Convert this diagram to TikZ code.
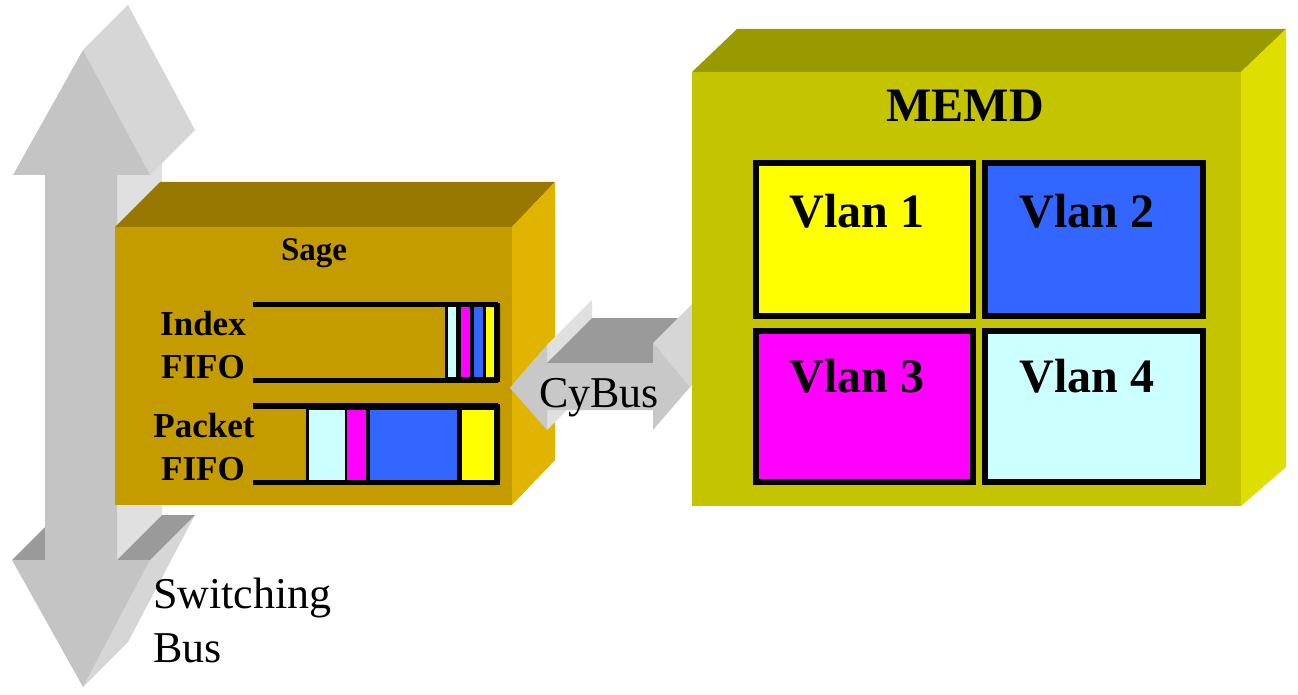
\documentclass[tikz,border=0pt]{standalone}
\usepackage{fontspec}
\setmainfont{Liberation Serif}

% arrow greys
\definecolor{arrFront}{HTML}{C4C4C4}
\definecolor{arrHeadSide}{HTML}{D6D6D6}
\definecolor{arrShaftSide}{HTML}{E0E0E0}
\definecolor{arrTop}{HTML}{9A9A9A}
\definecolor{cyFront}{HTML}{C8C8C8}
% Sage box
\definecolor{sageFront}{HTML}{C49C00}
\definecolor{sageTop}{HTML}{987800}
\definecolor{sageSide}{HTML}{E0B400}
% MEMD box
\definecolor{memdFront}{HTML}{C4C400}
\definecolor{memdTop}{HTML}{999900}
\definecolor{memdSide}{HTML}{DEDE00}
% queue / vlan colours
\definecolor{qCyan}{HTML}{CCFFFF}
\definecolor{qMagenta}{HTML}{FF00FF}
\definecolor{qBlue}{HTML}{3366FF}
\definecolor{qYellow}{HTML}{FFFF00}

\begin{document}
\begin{tikzpicture}[x=1pt,y=-1pt,
  lbl/.style={inner sep=0pt, anchor=base},
  boldlbl/.style={lbl, font=\fontsize{#1}{#1}\selectfont\bfseries},
  plainlbl/.style={lbl, font=\fontsize{#1}{#1}\selectfont},
  rail/.style={line width=#1, line cap=butt},
  vlanbox/.style={draw=black, line width=6pt}
]
\useasboundingbox (0,0) rectangle (1298,695);

% ---------------- Switching bus: vertical 3-D double arrow ----------------
\fill[arrShaftSide] (117,175) -- (162,130) -- (162,515) -- (117,560) -- cycle;
\fill[arrHeadSide] (83,50) -- (128,5) -- (195,130) -- (150,175) -- cycle;
\fill[arrHeadSide] (150,560) -- (195,515) -- (128,642) -- (83,687) -- cycle;
\fill[arrTop] (12,560) -- (57,515) -- (90,515) -- (45,560) -- cycle;
\fill[arrTop] (117,560) -- (162,515) -- (195,515) -- (150,560) -- cycle;
\fill[arrFront] (83,50) -- (150,175) -- (117,175) -- (117,560) -- (150,560)
  -- (83,687) -- (12,560) -- (45,560) -- (45,175) -- (13,175) -- cycle;

% ---------------- Sage box ----------------
\fill[sageTop] (115,227) -- (160,182) -- (555,182) -- (512,227) -- cycle;
\fill[sageSide] (512,227) -- (555,182) -- (555,460) -- (512,505) -- cycle;
\fill[sageFront] (115,227) rectangle (512,505);

% Index FIFO queue
\fill[black] (445,303) rectangle (500,382);
\fill[qCyan]    (448,307) rectangle (456,377);
\fill[qMagenta] (461,307) rectangle (470,377);
\fill[qBlue]    (474,307) rectangle (483,377);
\fill[qYellow]  (486,307) rectangle (494,377);
\draw[rail=5pt] (253,304.5) -- (498,304.5);
\draw[rail=5pt] (253,380) -- (498,380);
\draw[line width=5pt, rounded corners=2pt] (490,304.5) -- (497.5,304.5) -- (497.5,380) -- (490,380);

% Packet FIFO queue
\fill[black] (306,404) rectangle (500,485);
\fill[qCyan]    (309,410) rectangle (345,480);
\fill[qMagenta] (347,410) rectangle (366,480);
\fill[qBlue]    (370,410) rectangle (457,480);
\fill[qYellow]  (462,410) rectangle (494,480);
\draw[rail=6pt] (253,406) -- (498,406);
\draw[rail=5pt] (253,482.5) -- (498,482.5);
\draw[line width=5pt, rounded corners=2pt] (490,406) -- (497.5,406) -- (497.5,482.5) -- (490,482.5);

% ---------------- CyBus: horizontal 3-D double arrow ----------------
\fill[arrShaftSide] (510,388) -- (555,343) -- (592,300) -- (547,345) -- cycle;
\fill[arrShaftSide] (547,345) -- (592,300) -- (592,318) -- (547,363) -- cycle;
\fill[arrShaftSide] (547,410) -- (592,365) -- (592,385) -- (547,430) -- cycle;
\fill[arrTop] (547,363) -- (592,318) -- (698,318) -- (653,363) -- cycle;
\fill[arrHeadSide] (653,343) -- (698,298) -- (735,342) -- (690,387) -- cycle;
\fill[cyFront] (510,388) -- (547,345) -- (547,363) -- (653,363) -- (653,343)
  -- (690,387) -- (653,430) -- (653,410) -- (547,410) -- (547,430) -- cycle;

% ---------------- MEMD box ----------------
\fill[memdTop] (692,72) -- (737,29) -- (1286,29) -- (1241,72) -- cycle;
\fill[memdSide] (1241,72) -- (1286,29) -- (1286,467) -- (1241,506) -- cycle;
\fill[memdFront] (692,72) rectangle (1241,506);

\filldraw[vlanbox, fill=qYellow]  (756,163) rectangle (973,316);
\filldraw[vlanbox, fill=qBlue]    (985,163) rectangle (1203,316);
\filldraw[vlanbox, fill=qMagenta] (756,331) rectangle (973,482);
\filldraw[vlanbox, fill=qCyan]    (985,331) rectangle (1203,482);

% ---------------- labels ----------------
\node[boldlbl=48] (memd) at (965,122) {MEMD};
\node[boldlbl=48] (vlan1) at (857,228) {Vlan 1};
\node[boldlbl=48] (vlan2) at (1087,228) {Vlan 2};
\node[boldlbl=48] (vlan3) at (857,392) {Vlan 3};
\node[boldlbl=48] (vlan4) at (1087,392) {Vlan 4};

\node[boldlbl=33] (sage) at (314,260) {Sage};
\node[boldlbl=35] (idx1) at (203,335) {Index};
\node[boldlbl=35] (idx2) at (203,378) {FIFO};
\node[boldlbl=35] (pkt1) at (204,437) {Packet};
\node[boldlbl=35] (pkt2) at (203,480) {FIFO};

\node[plainlbl=44] (cybus) at (599,407) {CyBus};
\node[plainlbl=44, anchor=base west] (sw1) at (153,608) {Switching};
\node[plainlbl=44, anchor=base west] (sw2) at (153,662) {Bus};
\end{tikzpicture}
\end{document}
